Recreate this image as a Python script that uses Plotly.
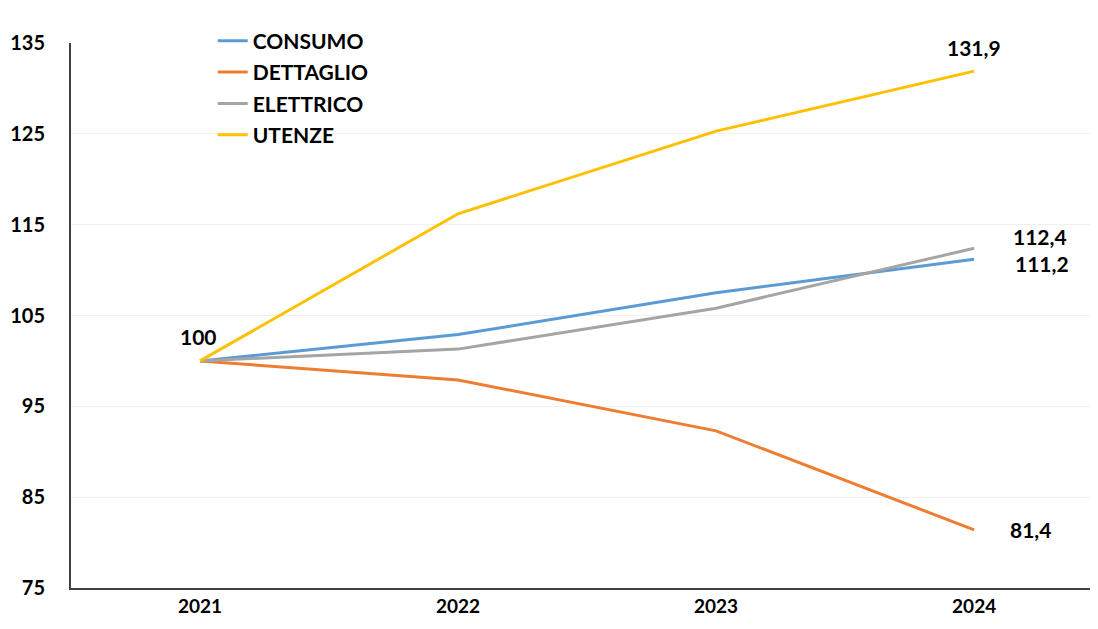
import plotly.graph_objects as go

years = ["2021", "2022", "2023", "2024"]
consumo = [100, 102.9, 107.5, 111.2]
dettaglio = [100, 97.9, 92.3, 81.4]
elettrico = [100, 101.3, 105.8, 112.4]
utenze = [100, 116.2, 125.3, 131.9]

names = ["CONSUMO", "DETTAGLIO", "ELETTRICO", "UTENZE"]
colors = ["#5B9BD5", "#ED7D31", "#A5A5A5", "#FFC000"]
series = [consumo, dettaglio, elettrico, utenze]

FONT = "Lato, Calibri, Arial, sans-serif"

fig = go.Figure()
for i, (n, c, s) in enumerate(zip(names, colors, series)):
    fig.add_trace(go.Scatter(x=years, y=s, name=n, mode="lines",
                             line=dict(color=c, width=3), legendgroup=n))

def fmt(v):
    return f"{v:.1f}".replace(".", ",") if v != int(v) else str(int(v))

# (category index, value, x shift px, y shift px)
labels = [
    (0, consumo[0], -2, 24),
    (3, utenze[3], 0, 24),
    (3, elettrico[3], 66, 12),
    (3, consumo[3], 68, -4),
    (3, dettaglio[3], 56, 0),
]
for xi, y, dx, dy in labels:
    fig.add_annotation(x=xi, y=y, xref="x", yref="y", text=fmt(y), showarrow=False,
                       xshift=dx, yshift=dy,
                       font=dict(family=FONT, size=21, color="#000000", weight="bold"))

fig.update_layout(
    width=1090, height=621,
    margin=dict(l=63, r=0, t=35, b=41),
    paper_bgcolor="white", plot_bgcolor="white",
    font=dict(family=FONT, size=19, color="#000000", weight="bold"),
    showlegend=True,
    legend=dict(x=0.138, y=1.041, xanchor="left", yanchor="top",
                bgcolor="rgba(0,0,0,0)", font=dict(size=21, weight="bold"),
                tracegroupgap=1, itemwidth=30),
    xaxis=dict(type="category", range=[-0.5, 3.48], showgrid=False,
               showline=True, linecolor="#404040", linewidth=2,
               ticks="", tickfont=dict(size=19, weight="bold")),
    yaxis=dict(range=[75, 135], tickvals=[75, 85, 95, 105, 115, 125, 135],
               showgrid=True, gridcolor="#F0F0F0", gridwidth=1,
               showline=True, linecolor="#404040", linewidth=2,
               zeroline=False, ticks="", ticklabelstandoff=20,
               tickfont=dict(size=20, weight="bold")),
)

fig.write_html("out.html")
